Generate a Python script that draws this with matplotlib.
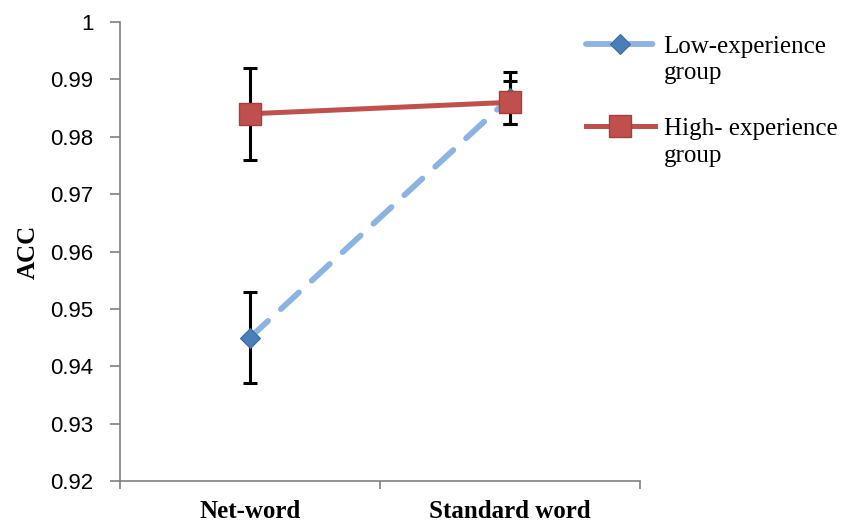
import numpy as np
import matplotlib.pyplot as plt
from matplotlib.ticker import FixedLocator

categories = ['Net-word', 'Standard word']
low_acc = [0.945, 0.9868]
low_err = [0.008, 0.0045]
high_acc = [0.984, 0.986]
high_err = [0.008, 0.0037]
legend_first = ['Low-experience', 'High- experience']
legend_second = ['group', 'group']

fig = plt.figure(figsize=(8.51, 5.25), dpi=100)
ax = fig.add_axes([120 / 851, 1 - 481 / 525, (640 - 120) / 851, (481 - 22) / 525])

x = np.arange(len(categories))

ax.errorbar(x, low_acc, yerr=low_err, fmt='none', ecolor='black',
            elinewidth=2.2, capsize=5, capthick=2.2, zorder=2)
ax.errorbar(x, high_acc, yerr=high_err, fmt='none', ecolor='black',
            elinewidth=2.2, capsize=5, capthick=2.2, zorder=2)

ax.plot(x, low_acc, color='#8db3e2', linestyle=(0, (4.2, 3.0)), linewidth=4.2,
        marker='D', markersize=10, markerfacecolor='#4a7ebb',
        markeredgecolor='#3d6aa8', markeredgewidth=0.8,
        label=legend_first[0], zorder=3, dash_capstyle='round')
ax.plot(x, high_acc, color='#c0504d', linewidth=3.6,
        marker='s', markersize=15.5, markerfacecolor='#c0504d',
        markeredgecolor='#a33f3c', markeredgewidth=1,
        label=legend_first[1], zorder=4)

ax.set_xlim(-0.5, 1.5)
ax.set_ylim(0.92, 1.0)
ax.set_yticks(np.arange(0.92, 1.001, 0.01))
ax.set_yticklabels(['0.92', '0.93', '0.94', '0.95', '0.96', '0.97', '0.98', '0.99', '1'],
                   fontfamily='Liberation Sans', fontsize=16)
ax.set_xticks(x)
ax.set_xticklabels(categories, fontfamily='Liberation Serif', fontweight='bold', fontsize=18)
ax.xaxis.set_minor_locator(FixedLocator([-0.5, 0.5, 1.5]))
ax.tick_params(axis='x', which='major', length=0, pad=14)
ax.tick_params(axis='x', which='minor', length=6, color='#808080', width=1.2)
ax.tick_params(axis='y', length=7, color='#808080', width=1.2, pad=12)

for side in ['top', 'right']:
    ax.spines[side].set_visible(False)
for side in ['left', 'bottom']:
    ax.spines[side].set_color('#808080')
    ax.spines[side].set_linewidth(1.2)

ax.set_ylabel('ACC', fontfamily='Liberation Serif', fontweight='bold', fontsize=18, labelpad=8)

leg = fig.legend(loc='upper left', bbox_to_anchor=(586 / 851, 1 - 35 / 525), frameon=False,
                 prop={'family': 'Liberation Serif', 'size': 18},
                 handlelength=2.75, handletextpad=0.35, labelspacing=2.4,
                 borderaxespad=0, borderpad=0)

# second line of each legend label, placed under the first line
fig.canvas.draw()
inv = fig.transFigure.inverted()
for txt, extra in zip(leg.get_texts(), legend_second):
    bb = txt.get_window_extent()
    fx, fy = inv.transform((bb.x0, bb.y0 - 5))
    fig.text(fx, fy, extra, fontfamily='Liberation Serif', fontsize=18, va='top', ha='left')

fig.savefig('out.png', dpi=100)
